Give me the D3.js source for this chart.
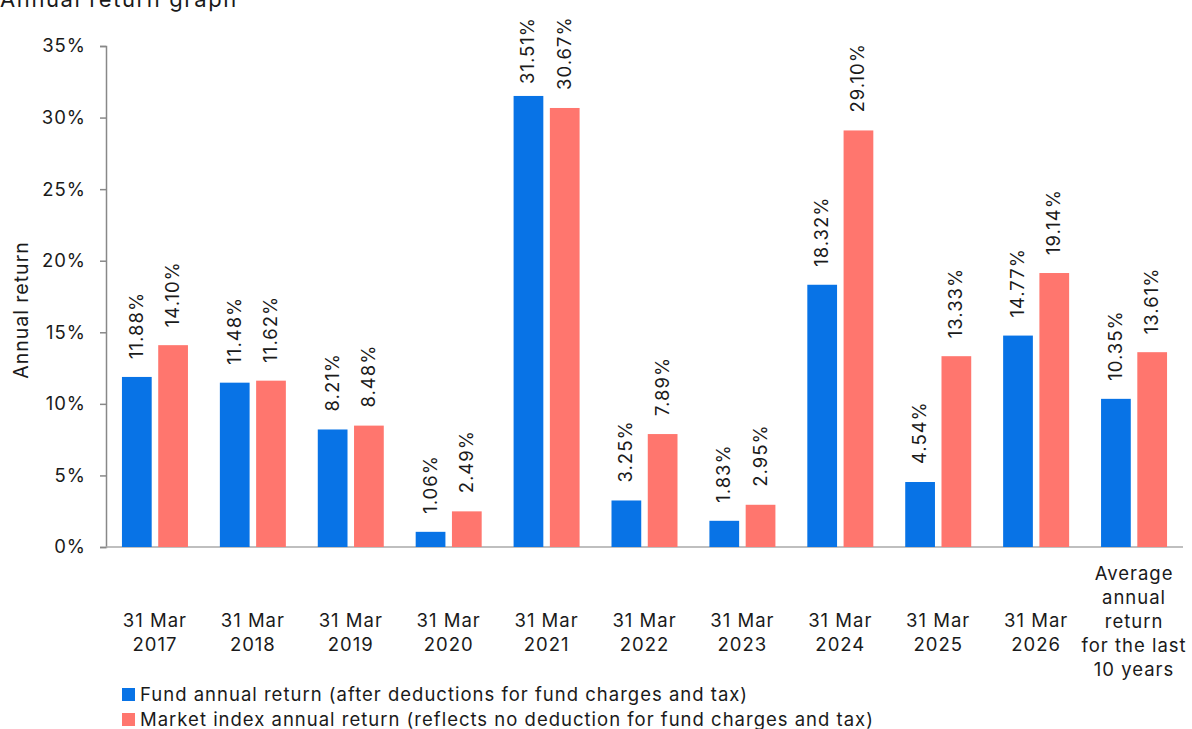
<!DOCTYPE html>
<html>
<head>
<meta charset="utf-8">
<script src="https://cdn.jsdelivr.net/npm/d3@7"></script>
<style>
  body { margin: 0; background: #fff; }
  text { font-family: Inter, "Liberation Sans", sans-serif; fill: #1a1a1a; letter-spacing: 1px; }
</style>
</head>
<body>
<svg width="1192" height="729"></svg>
<script>
const categories = [
    ["31 Mar", "2017"], ["31 Mar", "2018"], ["31 Mar", "2019"], ["31 Mar", "2020"],
    ["31 Mar", "2021"], ["31 Mar", "2022"], ["31 Mar", "2023"], ["31 Mar", "2024"],
    ["31 Mar", "2025"], ["31 Mar", "2026"],
    ["Average", "annual", "return", "for the last", "10 years"]
];
const fundReturns = [11.88, 11.48, 8.21, 1.06, 31.51, 3.25, 1.83, 18.32, 4.54, 14.77, 10.35];
const marketReturns = [14.10, 11.62, 8.48, 2.49, 30.67, 7.89, 2.95, 29.10, 13.33, 19.14, 13.61];
const yTicks = [0, 5, 10, 15, 20, 25, 30, 35];
const seriesNames = [
    "Fund annual return (after deductions for fund charges and tax)",
    "Market index annual return (reflects no deduction for fund charges and tax)"
];
const colors = ["#0873e6", "#ff766e"];

const svg = d3.select("svg");
const margin = { left: 106, right: 9, top: 46, bottom: 182 };
const width = +svg.attr("width");
const height = +svg.attr("height");

const x = d3.scaleBand()
    .domain(d3.range(categories.length))
    .range([margin.left, width - margin.right]);

const xInner = d3.scaleBand()
    .domain([0, 1])
    .range([0, 66])
    .paddingInner(0.18);

const y = d3.scaleLinear()
    .domain([0, 35])
    .range([height - margin.bottom, margin.top]);

// title (cut off at top like the original)
svg.append("text")
    .attr("x", 0)
    .attr("y", 7)
    .style("font-size", "22px")
    .style("letter-spacing", "1.6px")
    .text("Annual return graph");

// y axis
const yAxis = svg.append("g")
    .attr("transform", `translate(${margin.left},0)`)
    .call(d3.axisLeft(y).tickValues(yTicks).tickFormat(d => d + "%").tickSize(6).tickPadding(14).tickSizeOuter(6));
yAxis.select(".domain").attr("stroke", "#888").attr("stroke-width", 1.5);
yAxis.selectAll(".tick line").attr("stroke", "#888").attr("stroke-width", 1.5);
yAxis.selectAll(".tick text").style("font-size", "18.5px").style("font-family", null).attr("fill", "#1a1a1a");

// baseline
svg.append("line")
    .attr("x1", margin.left)
    .attr("x2", width - margin.right)
    .attr("y1", y(0))
    .attr("y2", y(0))
    .attr("stroke", "#aaa")
    .attr("stroke-width", 1.5);

svg.append("text")
    .attr("transform", `translate(28,310) rotate(-90)`)
    .attr("text-anchor", "middle")
    .style("font-size", "19.5px")
    .text("Annual return");

const rows = categories.map((c, i) => ({ i, vals: [fundReturns[i], marketReturns[i]] }));

const groups = svg.append("g")
    .selectAll("g")
    .data(rows)
    .enter()
    .append("g")
    .attr("transform", d => `translate(${x(d.i) + (x.bandwidth() - 66) / 2},0)`);

groups.selectAll("rect")
    .data(d => d.vals.map((v, s) => ({ v, s })))
    .enter()
    .append("rect")
    .attr("x", d => xInner(d.s))
    .attr("width", xInner.bandwidth())
    .attr("y", d => y(d.v))
    .attr("height", d => y(0) - y(d.v))
    .attr("fill", d => colors[d.s]);

groups.selectAll(".val")
    .data(d => d.vals.map((v, s) => ({ v, s })))
    .enter()
    .append("text")
    .attr("class", "val")
    .attr("transform", d => {
        const cx = xInner(d.s) + xInner.bandwidth() / 2 + 6;
        const by = Math.max(y(d.v) - 18, 84);
        return `translate(${cx},${by}) rotate(-90)`;
    })
    .style("font-size", "18.5px")
    .text(d => d.v.toFixed(2) + "%");

// x labels
const xl = svg.append("g")
    .selectAll("text")
    .data(categories)
    .enter()
    .append("text")
    .attr("text-anchor", "middle")
    .attr("x", (d, i) => x(i) + x.bandwidth() / 2)
    .attr("y", d => 627 - (d.length - 2) * 15.7)
    .style("font-size", "18.5px");
xl.selectAll("tspan")
    .data(d => d)
    .enter()
    .append("tspan")
    .attr("x", function () { return d3.select(this.parentNode).attr("x"); })
    .attr("dy", (d, j) => j === 0 ? 0 : 24)
    .text(d => d);

// legend
const legend = svg.append("g")
    .selectAll("g")
    .data(seriesNames)
    .enter()
    .append("g")
    .attr("transform", (d, i) => `translate(122,${688 + i * 25})`);
legend.append("rect")
    .attr("width", 13)
    .attr("height", 13)
    .attr("fill", (d, i) => colors[i]);
legend.append("text")
    .attr("x", 18)
    .attr("y", 13)
    .style("font-size", "18.5px")
    .text(d => d);
</script>
</body>
</html>
